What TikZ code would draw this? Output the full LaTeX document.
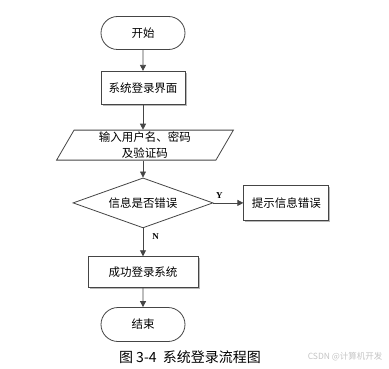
\documentclass[tikz,border=0pt]{standalone}
\usepackage{fontspec}
\setmainfont{Liberation Serif}
\newfontfamily\cjk{Noto Sans CJK SC}
\usetikzlibrary{arrows.meta, positioning, shapes.geometric, shapes.misc, shadows}
\definecolor{lineGray}{HTML}{454545}
\definecolor{shadowGray}{HTML}{B8B8B8}
\definecolor{markGray}{HTML}{C4C4C4}

\begin{document}
\begin{tikzpicture}[x=1pt, y=1pt,
    base/.style={draw=lineGray, line width=0.8pt, fill=white, inner sep=0pt,
                 align=center, font=\cjk\fontsize{11.5}{16}\selectfont},
    terminal/.style={base, rounded rectangle, minimum width=84pt, minimum height=33pt},
    procbox/.style={base, rectangle, minimum height=33pt,
                    drop shadow={shadow xshift=1.5pt, shadow yshift=-1.5pt,
                                 fill=shadowGray, opacity=1}},
    iobox/.style={base, trapezium, trapezium left angle=67, trapezium right angle=113,
                  trapezium stretches=true, minimum width=177pt, minimum height=30pt},
    decision/.style={base, diamond, aspect=2.8, minimum width=140pt, minimum height=50pt},
    flow/.style={-{Triangle[length=6pt, width=6pt]}, line width=0.8pt, lineGray},
    yn/.style={font=\fontsize{9}{10}\selectfont\bfseries, text=black, inner sep=1pt},
  ]
    \useasboundingbox (0,0) rectangle (389,-369);

    \node[terminal] (start) at (143,-33) {开始};
    \node[procbox, minimum width=84pt, below=21pt of start] (login) {系统登录界面};
    \node[iobox, below=25pt of login, xshift=2pt] (input) {输入用户名、密码\\及验证码};
    \node[decision, below=17pt of input.south, anchor=north, xshift=-2pt] (check) {信息是否错误};
    \node[procbox, minimum width=85pt, minimum height=35pt, right=30pt of check] (tip) {提示信息错误};
    \node[procbox, minimum width=110pt, minimum height=31pt, below=28pt of check] (ok) {成功登录系统};
    \node[terminal, minimum height=34pt, below=19pt of ok] (stop) {结束};

    \draw[flow] (start) -- (login);
    \draw[flow] (login) -- (login |- input.north);
    \draw[flow] (login |- input.south) -- (check);
    \draw[flow] (check) -- node[yn, pos=0.2, above=3pt] {Y} (tip);
    \draw[flow] (check) -- node[yn, pos=0.3, right=8pt] {N} (ok);
    \draw[flow] (ok) -- (stop);

    % caption and watermark
    \node[font=\cjk\fontsize{14}{16}\selectfont] (caption) at (190,-357) {图 3-4\ \ 系统登录流程图};
    \node[font=\cjk\fontsize{8.5}{10}\selectfont, text=markGray, anchor=east] (wm) at (386,-357) {CSDN @计算机开发};
\end{tikzpicture}
\end{document}
